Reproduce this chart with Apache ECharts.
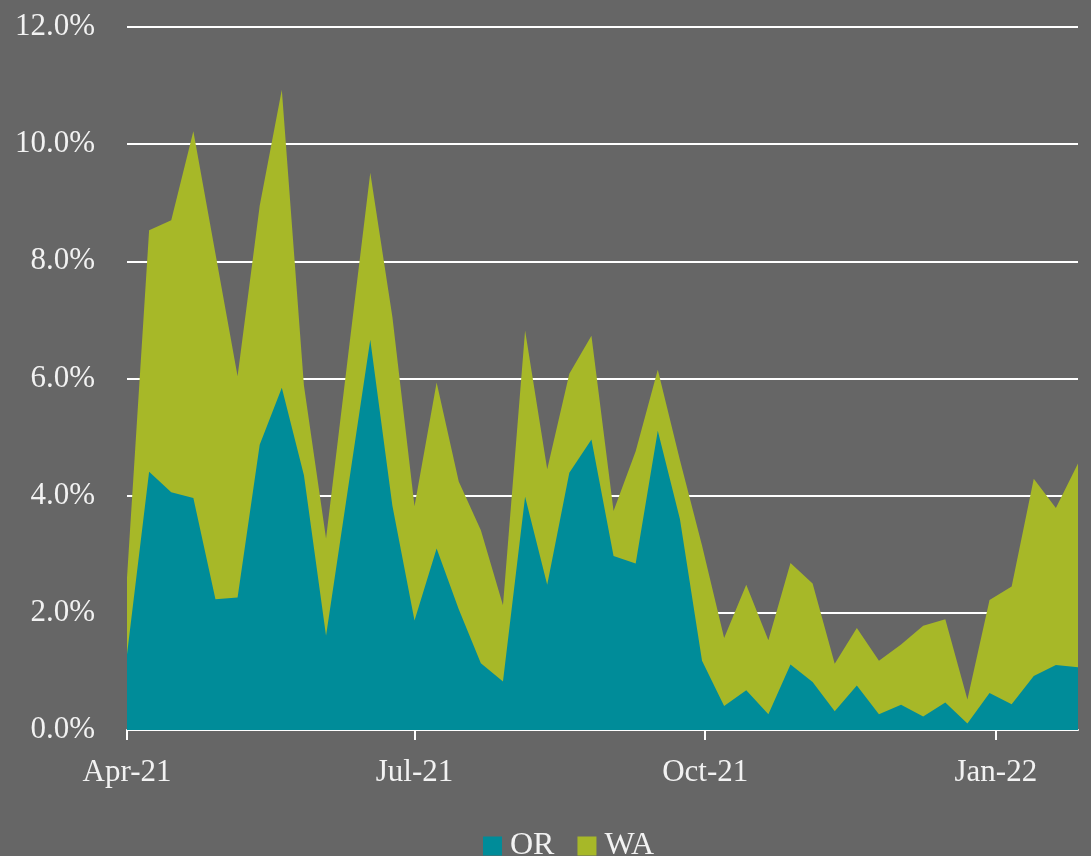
<!DOCTYPE html>
<html>
<head>
<meta charset="utf-8">
<script src="https://cdn.jsdelivr.net/npm/echarts@6/dist/echarts.min.js"></script>
<style>
html,body{margin:0;padding:0;background:#666666;}
#chart{width:1091px;height:856px;}
</style>
</head>
<body>
<div id="chart"></div>
<script>
// Weekly dates
var dates = [
  '2021-04-01','2021-04-08','2021-04-15','2021-04-22','2021-04-29',
  '2021-05-06','2021-05-13','2021-05-20','2021-05-27',
  '2021-06-03','2021-06-10','2021-06-17','2021-06-24',
  '2021-07-01','2021-07-08','2021-07-15','2021-07-22','2021-07-29',
  '2021-08-05','2021-08-12','2021-08-19','2021-08-26',
  '2021-09-02','2021-09-09','2021-09-16','2021-09-23','2021-09-30',
  '2021-10-07','2021-10-14','2021-10-21','2021-10-28',
  '2021-11-04','2021-11-11','2021-11-18','2021-11-25',
  '2021-12-02','2021-12-09','2021-12-16','2021-12-23','2021-12-30',
  '2022-01-06','2022-01-13','2022-01-20','2022-01-27'
];
// OR share (%)
var orValues = [
  1.29, 4.41, 4.06, 3.96, 2.23, 2.26, 4.87, 5.84, 4.35,
  1.61, 4.14, 6.66, 3.83, 1.87, 3.10, 2.06, 1.14, 0.83,
  3.98, 2.48, 4.39, 4.96, 2.97, 2.84, 5.11, 3.60, 1.18,
  0.41, 0.68, 0.27, 1.12, 0.82, 0.32, 0.76, 0.27,
  0.43, 0.23, 0.47, 0.11, 0.63, 0.44, 0.92, 1.11, 1.07
];
// WA share (%), stacked on OR
var waValues = [
  1.31, 4.12, 4.64, 6.26, 5.90, 3.78, 4.08, 5.09, 1.53,
  1.66, 2.26, 2.85, 3.22, 1.95, 2.83, 2.18, 2.27, 1.30,
  2.84, 1.97, 1.69, 1.77, 0.77, 1.92, 1.04, 1.01, 1.97,
  1.16, 1.80, 1.26, 1.73, 1.68, 0.81, 0.98, 0.91,
  1.03, 1.55, 1.42, 0.41, 1.59, 2.01, 3.37, 2.68, 3.48
];
var xTickDates = ['2021-04-01','2021-07-01','2021-10-01','2022-01-01'];
var yTicks = [0, 2, 4, 6, 8, 10, 12];
var seriesNames = ['OR', 'WA'];

var monthNames = ['Jan','Feb','Mar','Apr','May','Jun','Jul','Aug','Sep','Oct','Nov','Dec'];
function toTime(s){ var p = s.split('-'); return Date.UTC(+p[0], +p[1]-1, +p[2]); }
var tickTimes = xTickDates.map(toTime);
var FONT = 'Liberation Serif';
var TXT = '#f2f2f2';
var C_OR = '#008C99', C_WA = '#A7B828';

// stacked top of WA = OR + WA
var orData = dates.map(function(d,i){ return [toTime(d), orValues[i]]; });
var waTopData = dates.map(function(d,i){ return [toTime(d), +(orValues[i] + waValues[i]).toFixed(4)]; });

var chart = echarts.init(document.getElementById('chart'));
chart.setOption({
  backgroundColor: '#666666',
  animation: false,
  textStyle: { fontFamily: FONT },
  grid: { left: 127, right: 13, top: 27, bottom: 126, containLabel: false },
  legend: {
    data: seriesNames,
    left: 478, top: 825,
    icon: 'rect', itemWidth: 19, itemHeight: 19, itemGap: 23,
    textStyle: { color: TXT, fontSize: 32, fontFamily: FONT, padding: [0,0,6,3] }
  },
  xAxis: {
    type: 'value',
    min: toTime(dates[0]),
    max: toTime(dates[dates.length-1]),
    axisLine: { show: true, lineStyle: { color: '#ffffff', width: 2 } },
    axisTick: { show: true, length: 10, customValues: tickTimes, lineStyle: { color: '#ffffff', width: 2 } },
    splitLine: { show: false },
    axisLabel: {
      customValues: tickTimes,
      color: TXT, fontSize: 31, fontFamily: FONT, margin: 27,
      formatter: function(v){ var d = new Date(v); return monthNames[d.getUTCMonth()] + '-' + String(d.getUTCFullYear()).slice(2); }
    }
  },
  yAxis: {
    type: 'value', min: yTicks[0], max: yTicks[yTicks.length-1], interval: 2,
    axisLine: { show: false }, axisTick: { show: false },
    splitLine: { show: true, lineStyle: { color: '#ffffff', width: 2 } },
    axisLabel: { color: TXT, fontSize: 31, fontFamily: FONT, margin: 32,
      formatter: function(v){ return v.toFixed(1) + '%'; } }
  },
  series: [
    { name: seriesNames[1], type: 'line', symbol: 'none', z: 2,
      color: C_WA, lineStyle: { width: 0 }, areaStyle: { color: C_WA, opacity: 1 },
      data: waTopData },
    { name: seriesNames[0], type: 'line', symbol: 'none', z: 3,
      color: C_OR, lineStyle: { width: 0 }, areaStyle: { color: C_OR, opacity: 1 },
      data: orData }
  ]
});
</script>
</body>
</html>
